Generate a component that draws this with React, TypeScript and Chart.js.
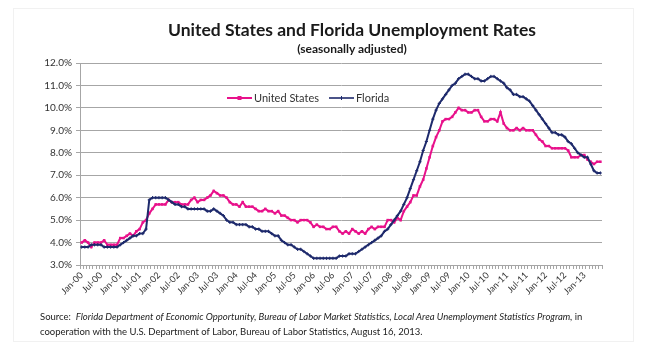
import React, { useEffect, useRef } from "react";
import { Chart, registerables } from "chart.js";

Chart.register(...registerables);

const MONTHS = ["Jan", "Feb", "Mar", "Apr", "May", "Jun", "Jul", "Aug", "Sep", "Oct", "Nov", "Dec"];
const YEARS = ["00", "01", "02", "03", "04", "05", "06", "07", "08", "09", "10", "11", "12", "13"];
const MONTHS_IN_LAST_YEAR = 6;

const categories: string[] = [];
YEARS.forEach((yy, yi) => {
  const n = yi === YEARS.length - 1 ? MONTHS_IN_LAST_YEAR : 12;
  for (let m = 0; m < n; m++) categories.push(`${MONTHS[m]}-${yy}`);
});

const usRate = [
  4.0, 4.1, 4.0, 3.8, 4.0, 4.0, 4.0, 4.1, 3.9, 3.9, 3.9, 3.9,
  4.2, 4.2, 4.3, 4.4, 4.3, 4.5, 4.6, 4.9, 5.0, 5.3, 5.5, 5.7,
  5.7, 5.7, 5.7, 5.9, 5.8, 5.8, 5.8, 5.7, 5.7, 5.7, 5.9, 6.0,
  5.8, 5.9, 5.9, 6.0, 6.1, 6.3, 6.2, 6.1, 6.1, 6.0, 5.8, 5.7,
  5.7, 5.6, 5.8, 5.6, 5.6, 5.6, 5.5, 5.4, 5.4, 5.5, 5.4, 5.4,
  5.3, 5.4, 5.2, 5.2, 5.1, 5.0, 5.0, 4.9, 5.0, 5.0, 5.0, 4.9,
  4.7, 4.8, 4.7, 4.7, 4.6, 4.6, 4.7, 4.7, 4.5, 4.4, 4.5, 4.4,
  4.6, 4.5, 4.4, 4.5, 4.4, 4.6, 4.7, 4.6, 4.7, 4.7, 4.7, 5.0,
  5.0, 4.9, 5.1, 5.0, 5.4, 5.6, 5.8, 6.1, 6.1, 6.5, 6.8, 7.3,
  7.8, 8.3, 8.7, 9.0, 9.4, 9.5, 9.5, 9.6, 9.8, 10.0, 9.9, 9.9,
  9.8, 9.8, 9.9, 9.9, 9.6, 9.4, 9.4, 9.5, 9.5, 9.4, 9.8, 9.3,
  9.1, 9.0, 9.0, 9.1, 9.0, 9.1, 9.0, 9.0, 9.0, 8.8, 8.6, 8.5,
  8.3, 8.3, 8.2, 8.2, 8.2, 8.2, 8.2, 8.1, 7.8, 7.8, 7.8, 7.9,
  7.9, 7.7, 7.6, 7.5, 7.6, 7.6,
];

const floridaRate = [
  3.8, 3.8, 3.8, 3.9, 3.9, 3.9, 3.9, 3.8, 3.8, 3.8, 3.8, 3.8,
  3.9, 4.0, 4.1, 4.2, 4.3, 4.3, 4.4, 4.4, 4.6, 5.9, 6.0, 6.0,
  6.0, 6.0, 6.0, 5.9, 5.8, 5.7, 5.7, 5.6, 5.6, 5.5, 5.5, 5.5,
  5.5, 5.5, 5.5, 5.4, 5.4, 5.5, 5.4, 5.3, 5.2, 5.0, 4.9, 4.9,
  4.8, 4.8, 4.8, 4.8, 4.7, 4.7, 4.6, 4.6, 4.5, 4.5, 4.5, 4.4,
  4.3, 4.3, 4.1, 4.0, 3.9, 3.9, 3.8, 3.7, 3.7, 3.6, 3.5, 3.4,
  3.3, 3.3, 3.3, 3.3, 3.3, 3.3, 3.3, 3.3, 3.4, 3.4, 3.4, 3.5,
  3.5, 3.5, 3.6, 3.7, 3.8, 3.9, 4.0, 4.1, 4.2, 4.3, 4.5, 4.6,
  4.8, 5.0, 5.2, 5.4, 5.7, 6.0, 6.4, 6.8, 7.2, 7.6, 8.1, 8.5,
  9.0, 9.5, 9.9, 10.2, 10.4, 10.6, 10.8, 11.0, 11.1, 11.3, 11.4, 11.5,
  11.5, 11.4, 11.3, 11.3, 11.2, 11.2, 11.3, 11.4, 11.4, 11.3, 11.2, 11.1,
  10.9, 10.8, 10.6, 10.6, 10.5, 10.5, 10.4, 10.3, 10.1, 9.9, 9.7, 9.5,
  9.3, 9.1, 8.9, 8.9, 8.8, 8.8, 8.7, 8.5, 8.4, 8.2, 8.0, 7.9,
  7.8, 7.8, 7.5, 7.2, 7.1, 7.1,
];

const Y_MIN = 3;
const Y_MAX = 12;
const Y_STEP = 1;
const LABEL_EVERY = 6;

const US_COLOR = "#E8118B";
const FL_COLOR = "#1E2A6C";
const GRID_COLOR = "#A6A6A6";
const FONT = "Lato, 'Open Sans', sans-serif";

const seriesNames = ["United States", "Florida"];

const inlineLegend = {
  id: "inlineLegend",
  afterDraw(chart: any) {
    const { ctx, chartArea } = chart;
    const y = chartArea.top + 35;
    const items = [
      { label: seriesNames[0], color: US_COLOR, x: chartArea.left + 147, marker: "rect", lw: 2 },
      { label: seriesNames[1], color: FL_COLOR, x: chartArea.left + 249, marker: "cross", lw: 1.6 },
    ];
    ctx.save();
    items.forEach((it) => {
      ctx.strokeStyle = it.color;
      ctx.fillStyle = it.color;
      ctx.lineWidth = it.lw;
      ctx.beginPath();
      ctx.moveTo(it.x, y);
      ctx.lineTo(it.x + 25, y);
      ctx.stroke();
      const mx = it.x + 12.5;
      if (it.marker === "rect") {
        ctx.fillRect(mx - 2, y - 2, 4, 4);
      } else {
        ctx.lineWidth = 1;
        ctx.beginPath();
        ctx.moveTo(mx, y - 2);
        ctx.lineTo(mx, y + 2);
        ctx.stroke();
      }
      ctx.fillStyle = "#333333";
      ctx.font = `11px ${FONT}`;
      ctx.textAlign = "left";
      ctx.textBaseline = "middle";
      ctx.fillText(it.label, it.x + 27, y + 0.5);
    });
    ctx.restore();
  },
};

export default function App() {
  const canvasRef = useRef<HTMLCanvasElement | null>(null);

  useEffect(() => {
    document.body.style.margin = "0";
    const canvas = canvasRef.current;
    if (!canvas) return;
    const chart = new Chart(canvas, {
      type: "line",
      data: {
        labels: categories,
        datasets: [
          {
            label: seriesNames[0],
            data: usRate,
            borderColor: US_COLOR,
            backgroundColor: US_COLOR,
            borderWidth: 2,
            pointStyle: "rect",
            pointRadius: 1.8,
            pointBorderWidth: 0,
            pointBackgroundColor: US_COLOR,
            tension: 0,
            order: 1,
          },
          {
            label: seriesNames[1],
            data: floridaRate,
            borderColor: FL_COLOR,
            backgroundColor: FL_COLOR,
            borderWidth: 2,
            pointStyle: "cross",
            pointRadius: 1.6,
            pointBorderWidth: 1,
            pointBorderColor: FL_COLOR,
            tension: 0,
            order: 0,
          },
        ],
      },
      options: {
        animation: false,
        responsive: false,
        maintainAspectRatio: false,
        devicePixelRatio: 1,
        layout: { padding: { left: 0, top: 63, right: 44, bottom: 59 } },
        plugins: {
          legend: { display: false },
          title: { display: false },
          tooltip: { enabled: false },
        },
        scales: {
          x: {
            type: "category",
            offset: true,
            grid: {
              offset: true,
              drawOnChartArea: false,
              drawTicks: true,
              tickLength: 4,
              color: GRID_COLOR,
            },
            border: { color: GRID_COLOR, width: 1 },
            ticks: {
              autoSkip: false,
              minRotation: 45,
              maxRotation: 45,
              padding: 1,
              color: "#333333",
              font: { family: FONT, size: 9 },
              callback: (_v: any, i: number) => (i % LABEL_EVERY === 0 ? categories[i] : ""),
            },
            afterFit: (scale: any) => {
              scale.height = 40;
            },
          },
          y: {
            min: Y_MIN,
            max: Y_MAX,
            grid: {
              color: GRID_COLOR,
              lineWidth: 1,
              drawTicks: true,
              tickLength: 4,
            },
            border: { color: GRID_COLOR, width: 1 },
            ticks: {
              stepSize: Y_STEP,
              padding: 4,
              color: "#333333",
              font: { family: FONT, size: 10 },
              callback: (v: any) => `${Number(v).toFixed(1)}%`,
            },
            afterFit: (scale: any) => {
              scale.width = 80;
            },
          },
        },
      },
      plugins: [inlineLegend],
    });
    return () => chart.destroy();
  }, []);

  return (
    <div
      style={{
        position: "fixed",
        left: 0,
        top: 0,
        width: 646,
        height: 364,
        background: "#ffffff",
        fontFamily: FONT,
        overflow: "hidden",
      }}
    >
      <div
        style={{
          position: "absolute",
          left: 13,
          top: 8,
          width: 621,
          height: 334,
          border: "1px solid #f1f1f1",
          boxSizing: "border-box",
        }}
      />
      <canvas ref={canvasRef} width={646} height={364} style={{ position: "absolute", left: 0, top: 0 }} />
      <div
        style={{
          position: "absolute",
          left: 102,
          top: 20,
          width: 500,
          textAlign: "center",
          fontWeight: 700,
          fontSize: 17.5,
          color: "#1a1a1a",
          lineHeight: "20px",
        }}
      >
        United States and Florida Unemployment Rates
      </div>
      <div
        style={{
          position: "absolute",
          left: 202,
          top: 42,
          width: 300,
          textAlign: "center",
          fontWeight: 700,
          fontSize: 12,
          color: "#1a1a1a",
          lineHeight: "14px",
        }}
      >
        (seasonally adjusted)
      </div>
      <div
        style={{
          position: "absolute",
          left: 40,
          top: 309,
          width: 600,
          fontSize: 9.5,
          lineHeight: "15px",
          color: "#222222",
          whiteSpace: "nowrap",
        }}
      >
        <div>
          Source:&nbsp;&nbsp;
          <i>
            Florida Department of Economic Opportunity, Bureau of Labor Market Statistics, Local Area Unemployment
            Statistics Program,
          </i>{" "}
          in
        </div>
        <div>cooperation with the U.S. Department of Labor, Bureau of Labor Statistics, August 16, 2013.</div>
      </div>
    </div>
  );
}
